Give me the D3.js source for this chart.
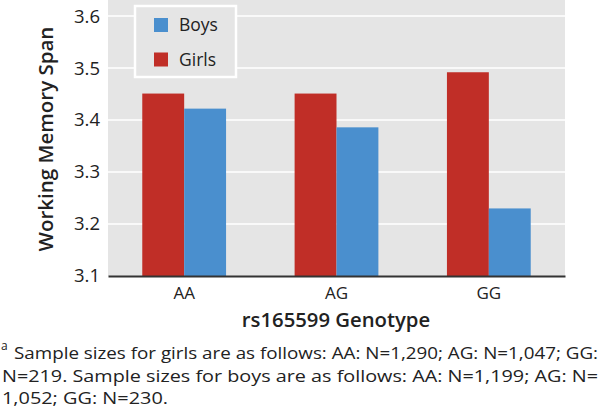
<!DOCTYPE html>
<html>
<head>
<meta charset="utf-8">
<script src="https://cdn.jsdelivr.net/npm/d3@7"></script>
<style>
  html, body { margin: 0; padding: 0; background: #fff; }
  svg { display: block; font-family: "Open Sans", "Noto Sans", sans-serif; }
</style>
</head>
<body>
<svg id="chart" width="600" height="418"></svg>
<script>
const categories = ["AA", "AG", "GG"];
const seriesNames = ["Girls", "Boys"];
const girls = [3.451, 3.451, 3.492];
const boys = [3.422, 3.386, 3.230];
const yTicks = [3.1, 3.2, 3.3, 3.4, 3.5, 3.6];
const legendOrder = ["Boys", "Girls"];
const footnoteLines = [
  "Sample sizes for girls are as follows: AA: N=1,290; AG: N=1,047; GG:",
  "N=219. Sample sizes for boys are as follows: AA: N=1,199; AG: N=",
  "1,052; GG: N=230."
];

const colors = { Girls: "#c02e27", Boys: "#4a8fce" };
const svg = d3.select("#chart");
const plot = { left: 108, right: 565, top: 0, bottom: 276 };

const x = d3.scaleBand().domain(categories).range([plot.left, plot.right]).paddingInner(0.45).paddingOuter(0.225);
const xs = d3.scaleBand().domain(seriesNames).range([0, x.bandwidth()]);
const y = d3.scaleLinear().domain([3.1, 3.631]).range([plot.bottom, plot.top]);

// background
svg.append("rect").attr("x", plot.left).attr("y", plot.top)
  .attr("width", plot.right - plot.left).attr("height", plot.bottom - plot.top)
  .attr("fill", "#e5e5e5");

// gridlines
svg.append("g").selectAll("line").data(yTicks.filter(t => t > 3.1)).join("line")
  .attr("x1", plot.left).attr("x2", plot.right)
  .attr("y1", d => y(d)).attr("y2", d => y(d))
  .attr("stroke", "#fff").attr("stroke-width", 1.5);

// bars
const data = categories.map((c, i) => ({ cat: c, Girls: girls[i], Boys: boys[i] }));
const groups = svg.append("g").selectAll("g").data(data).join("g")
  .attr("transform", d => `translate(${x(d.cat)},0)`);
groups.selectAll("rect").data(d => seriesNames.map(s => ({ s, v: d[s] }))).join("rect")
  .attr("x", d => xs(d.s)).attr("width", xs.bandwidth())
  .attr("y", d => y(d.v)).attr("height", d => y(3.1) - y(d.v))
  .attr("fill", d => colors[d.s]);

// y axis
const yAxis = svg.append("g").attr("transform", `translate(${plot.left},0)`)
  .call(d3.axisLeft(y).tickValues(yTicks).tickFormat(d3.format(".1f")).tickSize(0).tickPadding(8));
yAxis.select(".domain").remove();
yAxis.attr("font-size", null).attr("font-family", null);
yAxis.selectAll("text").style("font-size", "18.5px").attr("fill", "#222");

// x axis
const xAxis = svg.append("g").attr("transform", `translate(0,${plot.bottom})`)
  .call(d3.axisBottom(x).tickSize(0).tickPadding(11));
xAxis.attr("font-size", null).attr("font-family", null);
xAxis.select(".domain").attr("stroke", "#333").attr("stroke-width", 2);
xAxis.selectAll("text").style("font-size", "17px").attr("fill", "#222");

// axis titles
svg.append("text").attr("transform", "translate(53,139) rotate(-90)")
  .attr("text-anchor", "middle").style("font-size", "20.5px").attr("font-weight", 600)
  .attr("fill", "#222").text("Working Memory Span");
svg.append("text").attr("x", 336).attr("y", 327)
  .attr("text-anchor", "middle").style("font-size", "20.3px").attr("font-weight", 600)
  .attr("fill", "#222").text("rs165599 Genotype");

// legend
const lg = svg.append("g");
lg.append("rect").attr("x", 135).attr("y", 6).attr("width", 101).attr("height", 71)
  .attr("fill", "#e5e5e5").attr("stroke", "#fff").attr("stroke-width", 2.5);
legendOrder.forEach((name, i) => {
  lg.append("rect").attr("x", 154).attr("y", 18 + i * 34.5).attr("width", 14).attr("height", 14)
    .attr("fill", colors[name]);
  lg.append("text").attr("x", 179).attr("y", 31 + i * 34.5).style("font-size", "17.5px")
    .attr("fill", "#222").text(name);
});

// footnote
svg.append("text").attr("x", 1).attr("y", 350).style("font-size", "12px").attr("fill", "#222").text("a");
const fnWidths = [584, 596, 166];
footnoteLines.forEach((line, i) => {
  svg.append("text").attr("x", i === 0 ? 14 : 2).attr("y", 359 + i * 22.5)
    .style("font-size", "16.5px").attr("fill", "#222").text(line)
    .attr("textLength", fnWidths[i]).attr("lengthAdjust", "spacingAndGlyphs");
});
</script>
</body>
</html>
